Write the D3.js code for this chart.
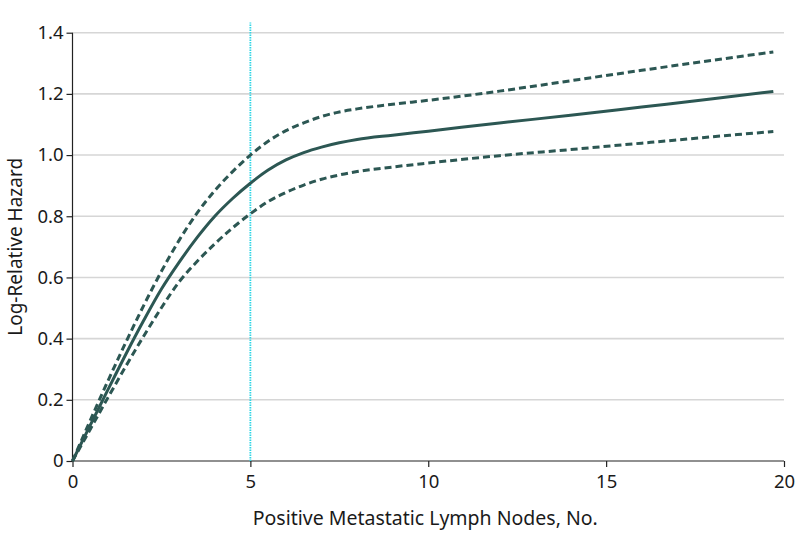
<!DOCTYPE html>
<html>
<head>
<meta charset="utf-8">
<script src="https://cdn.jsdelivr.net/npm/d3@7"></script>
<style>
  html, body { margin: 0; padding: 0; background: #fff; }
  svg { display: block; }
  text { font-family: "Noto Sans", "Open Sans", sans-serif; fill: #1a1a1a; }
</style>
</head>
<body>
<svg id="chart" width="798" height="546"></svg>
<script>
// ---- data ----
const nodes = [0, 0.5, 1, 1.5, 2, 2.5, 3, 3.5, 4, 4.5, 5, 5.5, 6, 6.5, 7, 7.5, 8, 9, 10, 12, 14, 16, 18, 19.7];
const estimate = [0, 0.117, 0.234, 0.349, 0.459, 0.562, 0.650, 0.730, 0.800, 0.858, 0.908, 0.951, 0.984, 1.008, 1.026, 1.040, 1.051, 1.065, 1.078, 1.105, 1.130, 1.157, 1.184, 1.208];
const upperCI = [0, 0.133, 0.263, 0.388, 0.508, 0.620, 0.722, 0.810, 0.884, 0.946, 1.000, 1.045, 1.080, 1.105, 1.126, 1.141, 1.151, 1.166, 1.179, 1.209, 1.243, 1.277, 1.310, 1.337];
const lowerCI = [0, 0.104, 0.208, 0.310, 0.408, 0.501, 0.586, 0.652, 0.710, 0.762, 0.808, 0.848, 0.878, 0.902, 0.921, 0.935, 0.946, 0.961, 0.974, 0.998, 1.018, 1.039, 1.060, 1.077];
const xTicks = [0, 5, 10, 15, 20];
const yTicks = [0, 0.2, 0.4, 0.6, 0.8, 1.0, 1.2, 1.4];
const yTickLabels = ["0", "0.2", "0.4", "0.6", "0.8", "1.0", "1.2", "1.4"];
const cutoff = [5];
const xTitle = "Positive Metastatic Lymph Nodes, No.";
const yTitle = "Log-Relative Hazard";

// ---- layout ----
const svg = d3.select("#chart");
const x = d3.scaleLinear().domain([0, 20]).range([72.5, 784]);
const y = d3.scaleLinear().domain([0, 1.4]).range([461, 32.7]);
const lineColor = "#2c5753";
const tickFont = 18.5;
const titleFont = 19.5;

// gridlines
svg.append("g").selectAll("line").data(yTicks.filter(d => d > 0)).join("line")
  .attr("x1", x(0)).attr("x2", x(20))
  .attr("y1", d => y(d)).attr("y2", d => y(d))
  .attr("stroke", "#d6d6d6").attr("stroke-width", 1.6);

// y axis
const yAxis = svg.append("g").attr("transform", `translate(${x(0)},0)`)
  .call(d3.axisLeft(y).tickValues(yTicks).tickSize(6).tickPadding(3)
    .tickFormat((d, i) => yTickLabels[i]));
yAxis.select(".domain").attr("stroke", "#222").attr("stroke-width", 1.2).attr("d", `M0,${y(0)}V${y(1.4)}`);
yAxis.selectAll(".tick line").attr("stroke", "#222").attr("stroke-width", 1.2);
yAxis.selectAll(".tick text").attr("font-size", tickFont).attr("fill", "#1a1a1a")
  .style("font-family", '"Noto Sans", sans-serif');

// x axis
const xAxis = svg.append("g").attr("transform", `translate(0,${y(0)})`)
  .call(d3.axisBottom(x).tickValues(xTicks).tickSize(6).tickPadding(8));
xAxis.select(".domain").attr("stroke", "#222").attr("stroke-width", 1.2).attr("d", `M${x(0)},0H${x(20)}`);
xAxis.selectAll(".tick line").attr("stroke", "#222").attr("stroke-width", 1.2);
xAxis.selectAll(".tick text").attr("font-size", tickFont).attr("fill", "#1a1a1a")
  .style("font-family", '"Noto Sans", sans-serif');

// cutoff line
svg.append("g").selectAll("line").data(cutoff).join("line")
  .attr("x1", d => x(d)).attr("x2", d => x(d))
  .attr("y1", y(0)).attr("y2", y(1.433))
  .attr("stroke", "#2fd6e6").attr("stroke-width", 1.8)
  .attr("stroke-dasharray", "1.5,1");

// curves
const line = d3.line().x(d => x(d[0])).y(d => y(d[1])).curve(d3.curveMonotoneX);
const series = [
  { vals: upperCI, dash: "7,4" },
  { vals: lowerCI, dash: "7,4" },
  { vals: estimate, dash: null }
];
svg.append("g").selectAll("path").data(series).join("path")
  .attr("d", s => line(nodes.map((n, i) => [n, s.vals[i]])))
  .attr("fill", "none").attr("stroke", lineColor).attr("stroke-width", 3)
  .attr("stroke-dasharray", s => s.dash);

// axis titles
svg.append("text").attr("x", (x(0) + x(20)) / 2 - 3).attr("y", 525)
  .attr("text-anchor", "middle").attr("font-size", titleFont).text(xTitle);
svg.append("text").attr("transform", `translate(21.5,${(y(0) + y(1.4)) / 2}) rotate(-90)`)
  .attr("text-anchor", "middle").attr("font-size", 19).text(yTitle);
</script>
</body>
</html>
